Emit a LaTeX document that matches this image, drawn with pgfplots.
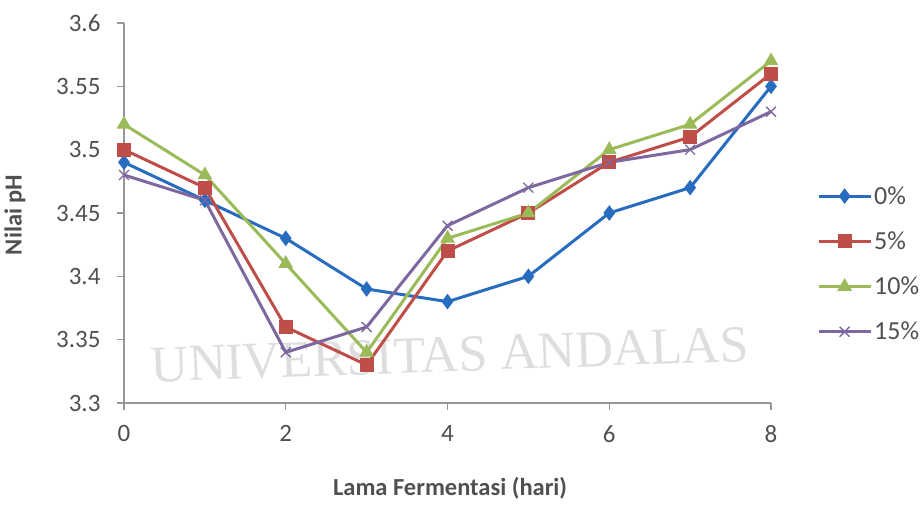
\documentclass[border=0pt]{standalone}
\usepackage{pgfplots}
\pgfplotsset{compat=1.18}
\usepackage{fontspec}
\setmainfont{Carlito}
\newfontfamily\wmfont{Liberation Serif}
\definecolor{c0}{RGB}{40,108,192}
\definecolor{c5}{RGB}{192,78,72}
\definecolor{c10}{RGB}{155,187,89}
\definecolor{c15}{RGB}{125,105,160}
\definecolor{axc}{RGB}{150,150,150}
\definecolor{txt}{RGB}{80,80,80}
\definecolor{wm}{RGB}{222,222,222}
\begin{document}
\begin{tikzpicture}
\path[use as bounding box] (-124pt,-102pt) rectangle (799pt,403pt);
\begin{axis}[
  at={(0pt,0pt)}, anchor=south west,
  scale only axis, width=647pt, height=380pt,
  xmin=0, xmax=8, ymin=3.3, ymax=3.6,
  axis lines*=left,
  axis line style={axc, line width=1.2pt, -},
  xtick={0,2,4,6,8},
  ytick={3.3,3.35,3.4,3.45,3.5,3.55,3.6},
  tick style={axc, line width=1.2pt},
  tick align=outside, major tick length=7pt,
  ticklabel style={font=\fontsize{25}{28}\selectfont, text=txt},
  /pgf/number format/assume math mode=true,
  yticklabel style={/pgf/number format/fixed, /pgf/number format/precision=2, xshift=-13pt},
  xticklabel style={yshift=-12pt},
  xlabel={\textbf{Lama Fermentasi (hari)}},
  ylabel={\textbf{Nilai pH}},
  every axis x label/.style={at={(rel axis cs:0.504,0)}, anchor=center, yshift=-85pt, font=\fontsize{24.5}{28}\selectfont, text=txt},
  every axis y label/.style={at={(rel axis cs:0,0.495)}, anchor=center, xshift=-109pt, rotate=90, font=\fontsize{24.5}{28}\selectfont, text=txt},
  legend style={at={(rel axis cs:1.071,0.366)}, anchor=west, draw=none, fill=none,
    font=\fontsize{26}{29}\selectfont, text=txt, row sep=22pt, inner sep=0pt,
    /tikz/every even column/.append style={column sep=0pt}},
  legend cell align=left,
  legend image code/.code={\draw[#1, mark repeat=2, mark phase=2] plot coordinates {(0pt,0pt) (26pt,0pt) (52pt,0pt)};},
  every axis plot/.append style={line width=3pt},
  clip=false,
]
\node[text=wm, font=\wmfont\fontsize{52}{56}\selectfont, rotate=2] at (axis cs:4.03,3.338) {UNIVERSITAS ANDALAS};
\addplot[c0, mark=diamond*, mark size=7pt, mark options={solid, fill=c0, line width=1pt}] coordinates {
(0,3.49) (1,3.46) (2,3.43) (3,3.39) (4,3.38) (5,3.40) (6,3.45) (7,3.47) (8,3.55)};
\addlegendentry{0\%}
\addplot[c5, mark=square*, mark size=6.5pt, mark options={solid, fill=c5, line width=1pt}] coordinates {
(0,3.50) (1,3.47) (2,3.36) (3,3.33) (4,3.42) (5,3.45) (6,3.49) (7,3.51) (8,3.56)};
\addlegendentry{5\%}
\addplot[c10, mark=triangle*, mark size=7.5pt, mark options={solid, fill=c10, line width=1pt}] coordinates {
(0,3.52) (1,3.48) (2,3.41) (3,3.34) (4,3.43) (5,3.45) (6,3.50) (7,3.52) (8,3.57)};
\addlegendentry{10\%}
\addplot[c15, mark=x, mark size=7pt, mark options={solid, line width=1.3pt}] coordinates {
(0,3.48) (1,3.46) (2,3.34) (3,3.36) (4,3.44) (5,3.47) (6,3.49) (7,3.50) (8,3.53)};
\addlegendentry{15\%}
\end{axis}
\end{tikzpicture}
\end{document}
